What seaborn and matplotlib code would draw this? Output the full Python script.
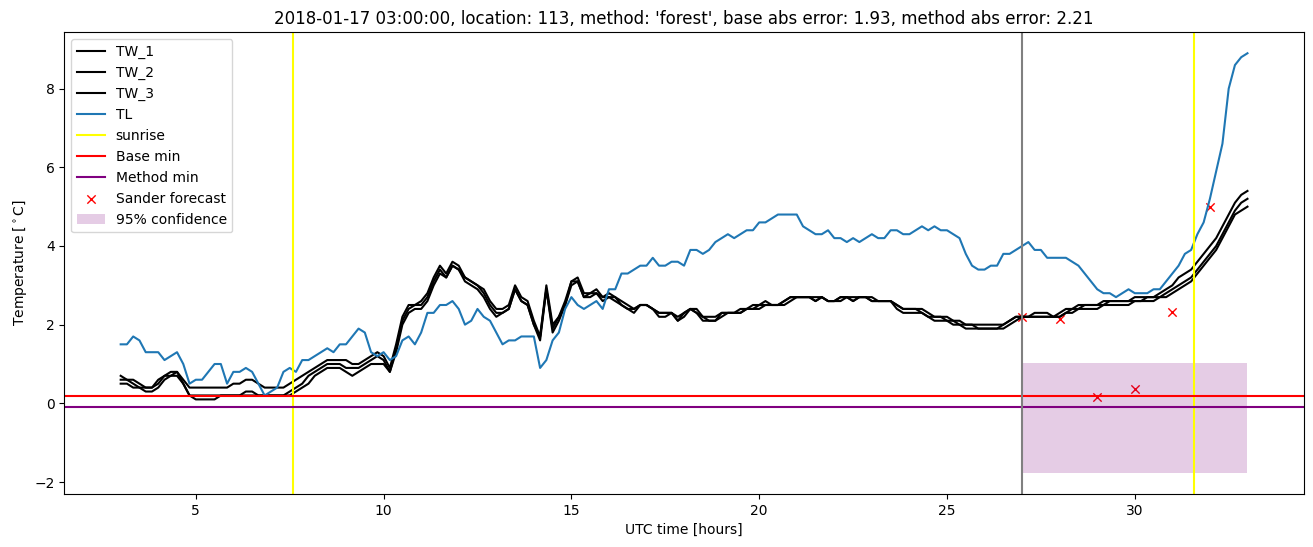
import numpy as np
import pandas as pd
import matplotlib
matplotlib.use("Agg")
import matplotlib.pyplot as plt
import seaborn as sns

# ---- data ----
hours = np.linspace(3, 33, 181)  # 10-minute samples from 03:00 to 33:00

tw_1 = [0.7,0.6,0.6,0.5,0.4,0.4,0.6,0.7,0.8,0.8,
        0.6,0.4,0.4,0.4,0.4,0.4,0.4,0.4,0.5,0.5,
        0.6,0.6,0.5,0.4,0.4,0.4,0.4,0.5,0.6,0.7,
        0.8,0.9,1.0,1.1,1.1,1.1,1.1,1.0,1.0,1.1,
        1.2,1.3,1.2,0.9,1.5,2.2,2.5,2.5,2.6,2.8,
        3.2,3.5,3.3,3.6,3.5,3.2,3.1,3.0,2.9,2.6,
        2.4,2.4,2.5,3.0,2.7,2.6,2.1,1.7,3.0,2.0,
        2.2,2.6,3.1,3.2,2.8,2.8,2.9,2.7,2.8,2.7,
        2.6,2.5,2.4,2.5,2.5,2.4,2.3,2.3,2.3,2.2,
        2.3,2.4,2.4,2.2,2.2,2.2,2.3,2.3,2.3,2.4,
        2.4,2.5,2.5,2.6,2.5,2.5,2.6,2.7,2.7,2.7,
        2.7,2.7,2.7,2.6,2.6,2.7,2.7,2.7,2.7,2.7,
        2.7,2.6,2.6,2.6,2.5,2.4,2.4,2.4,2.4,2.3,
        2.2,2.2,2.2,2.1,2.1,2.0,2.0,2.0,2.0,2.0,
        2.0,2.0,2.1,2.2,2.2,2.2,2.3,2.3,2.3,2.2,
        2.3,2.4,2.4,2.5,2.5,2.5,2.5,2.6,2.6,2.6,
        2.6,2.6,2.7,2.7,2.7,2.7,2.8,2.9,3.0,3.2,
        3.3,3.4,3.6,3.8,4.0,4.2,4.5,4.8,5.1,5.3,
        5.4]

tw_2 = [0.6,0.6,0.5,0.4,0.4,0.4,0.5,0.7,0.7,0.8,
        0.5,0.2,0.2,0.2,0.2,0.2,0.2,0.2,0.2,0.2,
        0.3,0.3,0.2,0.2,0.2,0.2,0.2,0.3,0.4,0.5,
        0.7,0.8,0.9,1.0,1.0,1.0,0.9,0.9,0.9,1.0,
        1.1,1.2,1.1,0.8,1.4,2.1,2.4,2.5,2.5,2.7,
        3.1,3.4,3.2,3.5,3.4,3.2,3.1,3.0,2.8,2.5,
        2.3,2.3,2.4,2.9,2.6,2.5,2.0,1.7,2.9,1.9,
        2.2,2.5,3.1,3.1,2.7,2.8,2.8,2.7,2.7,2.7,
        2.5,2.4,2.4,2.5,2.5,2.4,2.3,2.3,2.3,2.1,
        2.3,2.4,2.3,2.2,2.1,2.1,2.3,2.3,2.3,2.3,
        2.4,2.4,2.5,2.5,2.5,2.5,2.6,2.7,2.7,2.7,
        2.7,2.6,2.7,2.6,2.6,2.7,2.7,2.6,2.7,2.7,
        2.6,2.6,2.6,2.6,2.5,2.4,2.4,2.4,2.3,2.2,
        2.2,2.2,2.1,2.1,2.0,2.0,2.0,1.9,1.9,1.9,
        1.9,2.0,2.1,2.2,2.2,2.2,2.2,2.2,2.2,2.2,
        2.2,2.3,2.4,2.4,2.5,2.5,2.5,2.5,2.6,2.6,
        2.6,2.6,2.6,2.6,2.7,2.7,2.7,2.8,2.9,3.0,
        3.1,3.2,3.4,3.6,3.8,4.0,4.3,4.6,4.9,5.1,
        5.2]

tw_3 = [0.5,0.5,0.4,0.4,0.3,0.3,0.4,0.6,0.7,0.7,
        0.5,0.2,0.1,0.1,0.1,0.1,0.2,0.2,0.2,0.2,
        0.2,0.2,0.2,0.2,0.2,0.2,0.2,0.2,0.3,0.4,
        0.5,0.7,0.8,0.9,0.9,0.9,0.8,0.7,0.8,0.9,
        1.0,1.0,1.0,0.8,1.3,2.0,2.3,2.4,2.4,2.6,
        3.0,3.3,3.2,3.5,3.4,3.1,3.0,2.9,2.7,2.4,
        2.2,2.3,2.4,2.9,2.6,2.5,2.0,1.6,2.9,1.8,
        2.1,2.5,3.0,3.1,2.7,2.7,2.8,2.6,2.7,2.6,
        2.5,2.4,2.3,2.5,2.5,2.4,2.2,2.2,2.3,2.1,
        2.2,2.4,2.3,2.1,2.1,2.1,2.2,2.3,2.3,2.3,
        2.4,2.4,2.4,2.5,2.5,2.5,2.5,2.6,2.7,2.7,
        2.7,2.6,2.7,2.6,2.6,2.6,2.7,2.6,2.7,2.7,
        2.6,2.6,2.6,2.6,2.4,2.3,2.3,2.3,2.3,2.2,
        2.1,2.1,2.1,2.0,2.0,1.9,1.9,1.9,1.9,1.9,
        1.9,1.9,2.0,2.1,2.2,2.2,2.2,2.2,2.2,2.2,
        2.2,2.3,2.3,2.4,2.4,2.4,2.4,2.5,2.5,2.5,
        2.5,2.5,2.6,2.6,2.6,2.6,2.7,2.7,2.8,2.9,
        3.0,3.1,3.3,3.5,3.7,3.9,4.2,4.5,4.8,4.9,
        5.0]

tl = [1.5,1.5,1.7,1.6,1.3,1.3,1.3,1.1,1.2,1.3,
      1.0,0.5,0.6,0.6,0.8,1.0,1.0,0.5,0.8,0.8,
      0.9,0.8,0.5,0.2,0.3,0.4,0.8,0.9,0.8,1.1,
      1.1,1.2,1.3,1.4,1.3,1.5,1.5,1.7,1.9,1.8,
      1.3,1.2,1.3,1.1,1.2,1.6,1.7,1.5,1.8,2.3,
      2.3,2.5,2.5,2.6,2.4,2.0,2.1,2.4,2.2,2.1,
      1.8,1.5,1.6,1.6,1.7,1.7,1.7,0.9,1.1,1.6,
      1.8,2.4,2.7,2.5,2.4,2.5,2.6,2.4,2.9,2.9,
      3.3,3.3,3.4,3.5,3.5,3.7,3.5,3.5,3.6,3.6,
      3.5,3.9,3.9,3.8,3.9,4.1,4.2,4.3,4.2,4.3,
      4.4,4.4,4.6,4.6,4.7,4.8,4.8,4.8,4.8,4.5,
      4.4,4.3,4.3,4.4,4.2,4.2,4.1,4.2,4.1,4.2,
      4.3,4.2,4.2,4.4,4.4,4.3,4.3,4.4,4.5,4.4,
      4.5,4.4,4.4,4.3,4.2,3.8,3.5,3.4,3.4,3.5,
      3.5,3.8,3.8,3.9,4.0,4.1,3.9,3.9,3.7,3.7,
      3.7,3.7,3.6,3.5,3.3,3.1,2.9,2.8,2.8,2.7,
      2.8,2.9,2.8,2.8,2.8,2.9,2.9,3.1,3.3,3.5,
      3.8,3.9,4.3,4.6,5.2,5.9,6.6,8.0,8.6,8.8,
      8.9]

sunrise_hours = [7.59, 31.57]
now_hour = 27.0
base_min = 0.18
method_min = -0.1
forecast_hours = [27, 28, 29, 30, 31, 32]
forecast_values = [2.2, 2.15, 0.17, 0.37, 2.32, 4.98]
conf_hours = [27, 33]
conf_low = -1.77
conf_high = 1.02

title = ("2018-01-17 03:00:00, location: 113, method: 'forest', "
         "base abs error: 1.93, method abs error: 2.21")

# ---- plot ----
df = pd.DataFrame({"hours": hours, "TW_1": tw_1, "TW_2": tw_2,
                   "TW_3": tw_3, "TL": tl})

fig, ax = plt.subplots(figsize=(13.13, 5.47), dpi=100)
fig.subplots_adjust(left=0.049, right=0.993, top=0.941, bottom=0.097)

for name, col in [("TW_1", "black"), ("TW_2", "black"), ("TW_3", "black"),
                  ("TL", "#1f77b4")]:
    sns.lineplot(data=df, x="hours", y=name, color=col, label=name, ax=ax,
                 linewidth=1.5)

ax.axvline(sunrise_hours[0], color="yellow", label="sunrise")
ax.axvline(sunrise_hours[1], color="yellow")
ax.axhline(base_min, color="red", label="Base min")
ax.axhline(method_min, color="purple", label="Method min")
ax.axvline(now_hour, color="grey")
sns.scatterplot(x=forecast_hours, y=forecast_values, marker="x",
                color="red", label="Sander forecast", ax=ax,
                s=36, linewidth=1.0)
ax.fill_between(conf_hours, conf_low, conf_high, color="purple",
                alpha=0.2, linewidth=0, label="95% confidence")

ax.set_xlabel("UTC time [hours]")
ax.set_ylabel(r"Temperature [$^\circ$C]")
ax.set_title(title)
ax.legend(loc="upper left")

fig.savefig("out.png", dpi=100)
